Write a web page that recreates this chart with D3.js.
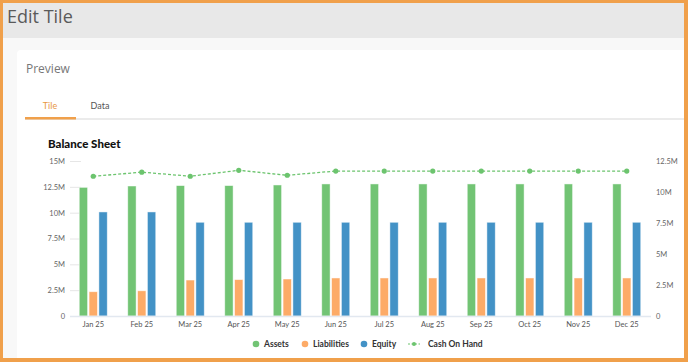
<!DOCTYPE html>
<html>
<head>
<meta charset="utf-8">
<script src="https://cdn.jsdelivr.net/npm/d3@7"></script>
<style>
  html, body { margin: 0; padding: 0; background: #fff; }
  svg { display: block; font-family: Lato, "Open Sans", sans-serif; }
</style>
</head>
<body>
<svg id="chart" width="688" height="362"></svg>
<script>
// chart data
const months = ['Jan 25', 'Feb 25', 'Mar 25', 'Apr 25', 'May 25', 'Jun 25', 'Jul 25', 'Aug 25', 'Sep 25', 'Oct 25', 'Nov 25', 'Dec 25'];
const assets = [12.45, 12.58, 12.62, 12.62, 12.68, 12.78, 12.78, 12.78, 12.78, 12.78, 12.78, 12.78];
const liabilities = [2.35, 2.44, 3.48, 3.52, 3.58, 3.68, 3.68, 3.68, 3.68, 3.68, 3.68, 3.68];
const equity = [10.07, 10.07, 9.07, 9.07, 9.07, 9.07, 9.07, 9.07, 9.07, 9.07, 9.07, 9.07];
const cashOnHand = [11.27, 11.6, 11.27, 11.75, 11.35, 11.69, 11.69, 11.69, 11.69, 11.69, 11.69, 11.69];
const leftTicks = [0, 2.5, 5, 7.5, 10, 12.5, 15];
const rightTicks = [0, 2.5, 5, 7.5, 10, 12.5];
const seriesNames = ['Assets', 'Liabilities', 'Equity'];
const colors = {Assets: '#72c474', Liabilities: '#fdab67', Equity: '#4392c6', Cash: '#6cc46e'};

const svg = d3.select('#chart');
const fmt = v => v === 0 ? '0' : (v + 'M');

// page chrome
svg.append('rect').attr('width', 688).attr('height', 362).attr('fill', '#f0a04b');
svg.append('rect').attr('x', 3).attr('y', 3).attr('width', 681).attr('height', 355).attr('fill', '#f8f8f8');
svg.append('rect').attr('x', 3).attr('y', 3).attr('width', 681).attr('height', 35).attr('fill', '#e8e8e8');
svg.append('text').attr('x', 7).attr('y', 23).attr('font-size', 18)
    .attr('font-family', '"Open Sans", sans-serif').attr('fill', '#5a5a5a').text('Edit Tile');
svg.append('path').attr('d', 'M17,358 V54 Q17,50 21,50 H684 V358 Z').attr('fill', '#fff');
svg.append('text').attr('x', 26).attr('y', 73).attr('font-size', 12)
    .attr('font-family', '"Open Sans", sans-serif').attr('fill', '#777').text('Preview');
svg.append('rect').attr('x', 25).attr('y', 118).attr('width', 659).attr('height', 2).attr('fill', '#ebebeb');
svg.append('rect').attr('x', 25).attr('y', 117).attr('width', 51).attr('height', 2.5).attr('fill', '#f0a04b');
svg.append('text').attr('x', 50).attr('y', 109).attr('text-anchor', 'middle').attr('font-size', 9)
    .attr('fill', '#e8973f').text('Tile');
svg.append('text').attr('x', 100).attr('y', 109).attr('text-anchor', 'middle').attr('font-size', 9)
    .attr('fill', '#555').text('Data');

svg.append('text').attr('x', 48).attr('y', 148).attr('font-size', 11.5).attr('font-weight', 900)
    .attr('fill', '#111').text('Balance Sheet');

// scales
const x0 = d3.scaleBand().domain(months).range([69, 651]);
const x1 = d3.scaleBand().domain(seriesNames).range([0, 28]).paddingInner(0.15);
const yL = d3.scaleLinear().domain([0, 15]).range([316, 161]);
const yR = d3.scaleLinear().domain([0, 12.5]).range([316, 161]);

// left axis with short grid ticks
const gL = svg.append('g').attr('transform', 'translate(70,0)')
    .call(d3.axisLeft(yL).tickValues(leftTicks).tickFormat(fmt).tickSize(0).tickPadding(5));
gL.select('.domain').remove();
gL.selectAll('text').attr('font-size', 7.5).attr('fill', '#666').attr('font-family', 'Lato, sans-serif');
gL.selectAll('.tick').append('line').attr('x1', 0).attr('x2', 11).attr('stroke', '#e6e6e6');

// right axis
const gR = svg.append('g').attr('transform', 'translate(651,0)')
    .call(d3.axisRight(yR).tickValues(rightTicks).tickFormat(fmt).tickSize(0).tickPadding(5));
gR.select('.domain').remove();
gR.selectAll('text').attr('font-size', 7.5).attr('fill', '#666').attr('font-family', 'Lato, sans-serif');

// bars
const rows = months.map((m, i) => ({month: m, Assets: assets[i], Liabilities: liabilities[i], Equity: equity[i]}));
const groups = svg.append('g').selectAll('g').data(rows).join('g')
    .attr('transform', d => 'translate(' + (x0(d.month) + x0.bandwidth() / 2 - 14) + ',0)');
groups.selectAll('rect')
    .data(d => seriesNames.map(k => ({key: k, value: d[k]})))
    .join('rect')
    .attr('x', d => x1(d.key))
    .attr('y', d => yL(d.value))
    .attr('width', x1.bandwidth())
    .attr('height', d => yL(0) - yL(d.value))
    .attr('fill', d => colors[d.key])
    .attr('stroke', 'rgba(255,255,255,0.6)')
    .attr('stroke-width', 0.8);

// baseline
svg.append('line').attr('x1', 70).attr('x2', 651).attr('y1', 316.5).attr('y2', 316.5)
    .attr('stroke', '#e2e8f0').attr('stroke-width', 1.5);

// x axis labels
const gX = svg.append('g').attr('transform', 'translate(0,317)')
    .call(d3.axisBottom(x0).tickSize(0).tickPadding(5));
gX.select('.domain').remove();
gX.selectAll('text').attr('font-size', 7.5).attr('fill', '#555').attr('font-family', 'Lato, sans-serif');

// cash on hand line (right axis)
const line = d3.line().x((d, i) => x0(months[i]) + x0.bandwidth() / 2).y(d => yR(d));
svg.append('path').datum(cashOnHand).attr('d', line).attr('fill', 'none')
    .attr('stroke', colors.Cash).attr('stroke-width', 1.3).attr('stroke-dasharray', '3,2');
svg.append('g').selectAll('circle').data(cashOnHand).join('circle')
    .attr('cx', (d, i) => x0(months[i]) + x0.bandwidth() / 2)
    .attr('cy', d => yR(d)).attr('r', 2.6).attr('fill', colors.Cash);

// legend
const legend = [
  {name: 'Assets', color: colors.Assets, x: 256, type: 'dot'},
  {name: 'Liabilities', color: colors.Liabilities, x: 305, type: 'dot'},
  {name: 'Equity', color: colors.Equity, x: 364, type: 'dot'},
  {name: 'Cash On Hand', color: colors.Cash, x: 414, type: 'line'}
];
const lg = svg.append('g').selectAll('g').data(legend).join('g')
    .attr('transform', d => 'translate(' + d.x + ',344)');
lg.filter(d => d.type === 'dot').append('circle').attr('r', 3.3).attr('fill', d => d.color);
lg.filter(d => d.type === 'line').append('line').attr('x1', -6).attr('x2', 6)
    .attr('stroke', d => d.color).attr('stroke-width', 1.2).attr('stroke-dasharray', '2,1.5');
lg.filter(d => d.type === 'line').append('circle').attr('r', 2).attr('fill', d => d.color);
lg.append('text').attr('x', d => d.type === 'line' ? 14 : 8).attr('y', 3.2)
    .attr('font-size', 8.5).attr('font-weight', 700).attr('fill', '#333').text(d => d.name);
</script>
</body>
</html>
